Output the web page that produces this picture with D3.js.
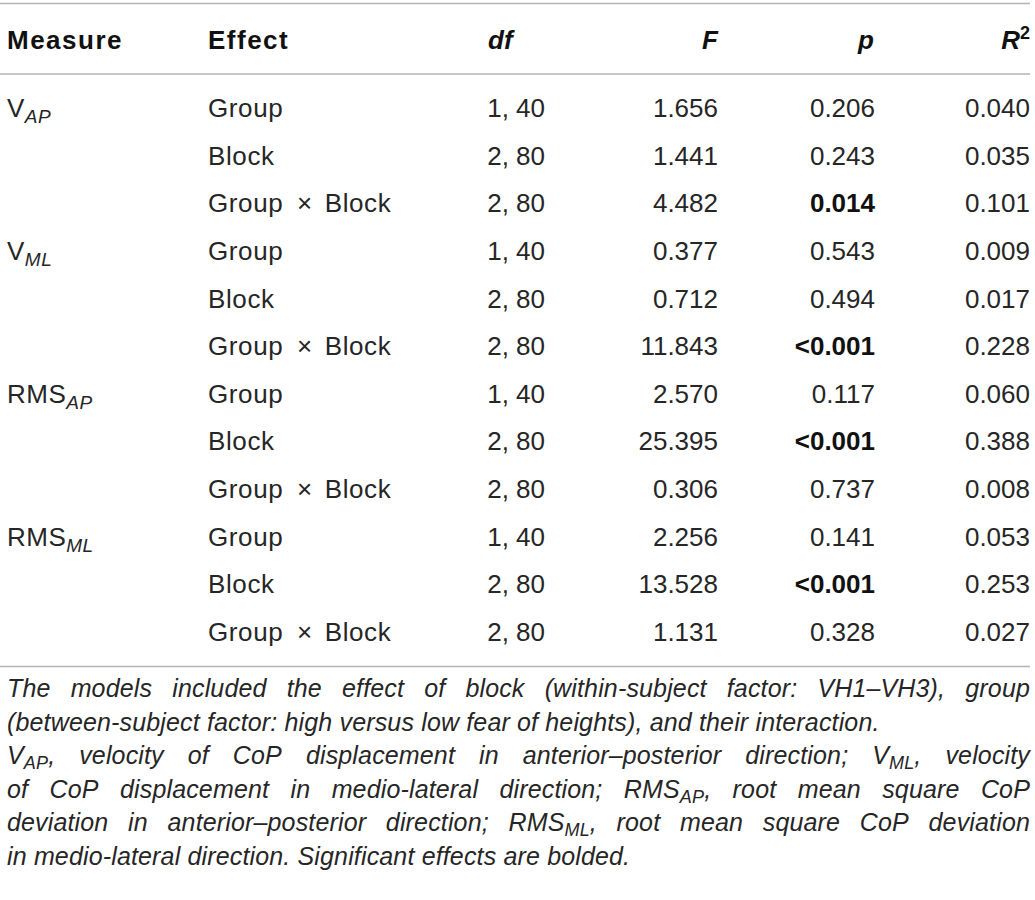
<html>
<head>
<style>
  body { margin: 0; background: #fff; }
  svg text { font-family: "Liberation Sans", Arial, Helvetica, sans-serif; fill: #262626; }
  .head text { font-weight: bold; fill: #111; }
  .cap text { font-style: italic; letter-spacing: 0.15px; }
</style>
</head>
<body>
<svg class="table" width="1035" height="900"></svg>
<script src="https://cdn.jsdelivr.net/npm/d3@7"></script>
<script>
// table values
var measureBase = ["V", "V", "RMS", "RMS"];
var measureSub = ["AP", "ML", "AP", "ML"];
var effects = ["Group", "Block", "Group \u00d7 Block"];
var dfs = ["1, 40", "2, 80", "2, 80"];
var fVals = ["1.656", "1.441", "4.482", "0.377", "0.712", "11.843", "2.570", "25.395", "0.306", "2.256", "13.528", "1.131"];
var pVals = ["0.206", "0.243", "0.014", "0.543", "0.494", "<0.001", "0.117", "<0.001", "0.737", "0.141", "<0.001", "0.328"];
var r2Vals = ["0.040", "0.035", "0.101", "0.009", "0.017", "0.228", "0.060", "0.388", "0.008", "0.053", "0.253", "0.027"];
var sig = [false, false, true, false, false, true, false, true, false, false, true, false];

var captionLines = [
  { t: "The models included the effect of block (within-subject factor: VH1\u2013VH3), group", j: true },
  { t: "(between-subject factor: high versus low fear of heights), and their interaction.", j: false },
  { t: "V_{AP}, velocity of CoP displacement in anterior\u2013posterior direction; V_{ML}, velocity", j: true },
  { t: "of CoP displacement in medio-lateral direction; RMS_{AP}, root mean square CoP", j: true },
  { t: "deviation in anterior\u2013posterior direction; RMS_{ML}, root mean square CoP deviation", j: true },
  { t: "in medio-lateral direction. Significant effects are bolded.", j: false }
];

var width = 1035;
var fs = 26;

var svg = d3.select('.table');

var rows = d3.range(fVals.length).map(function(i) {
  return {
    measure: i % 3 === 0 ? i / 3 : -1,
    effect: effects[i % 3],
    df: dfs[i % 3],
    f: fVals[i],
    p: pVals[i],
    r2: r2Vals[i],
    sig: sig[i]
  };
});

var yScale = d3.scalePoint()
  .domain(d3.range(rows.length))
  .range([117, 641]);

// rules
[3.5, 74, 666.5].forEach(function(y) {
  svg.append('line')
    .attr('x1', 0).attr('x2', 1030)
    .attr('y1', y).attr('y2', y)
    .style('stroke', '#b4b4b4')
    .style('stroke-width', 1.6);
});

// header
var head = svg.append('g').attr('class', 'head').attr('transform', 'translate(0,49)');
head.append('text').attr('x', 7).style('font-size', fs + 'px').style('letter-spacing', '1.5px').text('Measure');
head.append('text').attr('x', 208).style('font-size', fs + 'px').style('letter-spacing', '1.5px').text('Effect');
head.append('text').attr('x', 488).style('font-size', fs + 'px').style('font-style', 'italic').text('df');
head.append('text').attr('x', 718).attr('text-anchor', 'end').style('font-size', fs + 'px').style('font-style', 'italic').text('F');
head.append('text').attr('x', 874).attr('text-anchor', 'end').style('font-size', fs + 'px').style('font-style', 'italic').text('p');
var r2h = head.append('text').attr('x', 1030).attr('text-anchor', 'end').style('font-size', fs + 'px');
r2h.append('tspan').style('font-style', 'italic').text('R');
r2h.append('tspan').attr('dy', -10).style('font-size', '18px').text('2');

// body rows
var rowG = svg.selectAll('.row')
  .data(rows)
  .enter()
  .append('g')
  .attr('class', 'row')
  .attr('transform', function(d, i) { return 'translate(0,' + yScale(i) + ')'; })
  .style('font-size', fs + 'px');

rowG.filter(function(d) { return d.measure >= 0; })
  .append('text')
  .attr('x', 7)
  .style('letter-spacing', '0.5px')
  .each(function(d) {
    var t = d3.select(this);
    t.append('tspan').text(measureBase[d.measure]);
    t.append('tspan').attr('dy', 6).style('font-size', '19px').style('font-style', 'italic').text(measureSub[d.measure]);
  });

// effect names, the "x" gets a bit more room like in the print
rowG.append('text').attr('x', 208).style('letter-spacing', '0.6px').each(function(d) {
  var t = d3.select(this);
  var parts = d.effect.split(' \u00d7 ');
  t.append('tspan').text(parts[0]);
  if (parts.length > 1) {
    t.append('tspan').attr('dx', 6).text(' \u00d7');
    t.append('tspan').attr('dx', 4).text(' ' + parts[1]);
  }
});
rowG.append('text').attr('x', 545).attr('text-anchor', 'end').text(function(d) { return d.df; });
rowG.append('text').attr('x', 718).attr('text-anchor', 'end').text(function(d) { return d.f; });
rowG.append('text').attr('x', 875).attr('text-anchor', 'end')
  .style('font-weight', function(d) { return d.sig ? 'bold' : null; })
  .style('fill', function(d) { return d.sig ? '#111' : null; })
  .text(function(d) { return d.p; });
rowG.append('text').attr('x', 1030).attr('text-anchor', 'end').text(function(d) { return d.r2; });

// caption, justified by hand
var capFs = 25;
var capLeft = 7, capRight = 1030;
var capY = d3.scalePoint().domain(d3.range(captionLines.length)).range([697, 865]);

var cap = svg.append('g').attr('class', 'cap').style('font-size', capFs + 'px');

function addWord(g, word) {
  var parts = word.split(/_\{([^}]*)\}/);
  var t = g.append('text');
  var down = false;
  parts.forEach(function(s, k) {
    if (s === '') return;
    var isSub = k % 2 === 1;
    var ts = t.append('tspan').text(s);
    if (isSub && !down) { ts.attr('dy', 5).style('font-size', '18px'); down = true; }
    else if (isSub) { ts.style('font-size', '18px'); }
    else if (down) { ts.attr('dy', -5); down = false; }
  });
  return t;
}

var probe = cap.append('text').text('a a');
var probe2 = cap.append('text').text('aa');
var spaceW = probe.node().getComputedTextLength() - probe2.node().getComputedTextLength();
probe.remove(); probe2.remove();

captionLines.forEach(function(line, li) {
  var g = cap.append('g').attr('transform', 'translate(0,' + capY(li) + ')');
  var words = line.t.split(' ').map(function(w) { return addWord(g, w); });
  var widths = words.map(function(w) { return w.node().getComputedTextLength(); });
  var total = d3.sum(widths);
  var gap = line.j ? (capRight - capLeft - total) / (words.length - 1) : spaceW;
  var x = capLeft;
  words.forEach(function(w, k) {
    w.attr('x', x);
    x += widths[k] + gap;
  });
});
</script>
</body>
</html>
